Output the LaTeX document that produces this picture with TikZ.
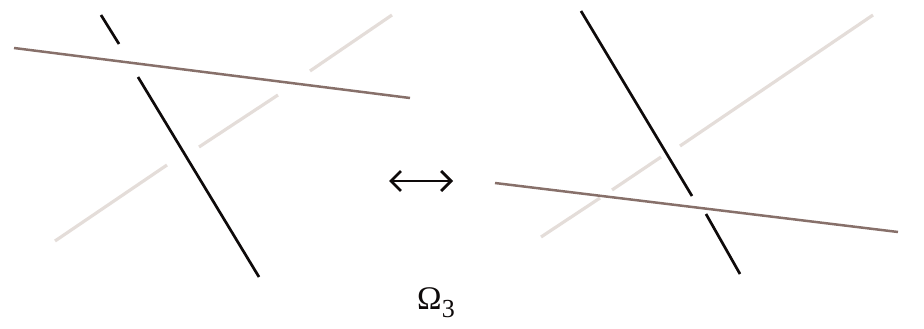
\documentclass[tikz,border=0pt]{standalone}
\usepackage{fontspec}
\setmainfont{Liberation Serif}
\usetikzlibrary{arrows.meta}
\definecolor{strandbrown}{RGB}{135,112,106}
\definecolor{strandpale}{RGB}{228,221,217}
\definecolor{strandblack}{RGB}{14,10,10}
\tikzset{
  blackstrand/.style={draw=strandblack,line width=2.7pt},
  brownstrand/.style={draw=strandbrown,line width=2.5pt},
  palestrand/.style={draw=strandpale,line width=3.2pt},
  swap/.style={draw=strandblack,line width=2.8pt,{Straight Barb[length=10pt,width=20pt,line width=2.8pt]}-{Straight Barb[length=10pt,width=20pt,line width=2.8pt]}}
}
\begin{document}
\begin{tikzpicture}[x=1pt,y=-1pt]
\useasboundingbox (0,0) rectangle (924,329);
% left figure
\coordinate (la1) at (55,241); \coordinate (la2) at (167,165);
\coordinate (la3) at (199,147); \coordinate (la4) at (278,95);
\coordinate (la5) at (310,71); \coordinate (la6) at (392,15);
\draw[palestrand] (la1) -- (la2);
\draw[palestrand] (la3) -- (la4);
\draw[palestrand] (la5) -- (la6);
\coordinate (lb1) at (101,15); \coordinate (lb2) at (119,44);
\coordinate (lb3) at (138,77); \coordinate (lb4) at (259,277);
\draw[blackstrand] (lb1) -- (lb2);
\draw[blackstrand] (lb3) -- (lb4);
\coordinate (lc1) at (14,48); \coordinate (lc2) at (410,98);
\draw[brownstrand] (lc1) -- (lc2);
% right figure
\coordinate (ra1) at (541,237); \coordinate (ra2) at (600,198);
\coordinate (ra3) at (612,190); \coordinate (ra4) at (661,157);
\coordinate (ra5) at (680,146); \coordinate (ra6) at (873,15);
\draw[palestrand] (ra1) -- (ra2);
\draw[palestrand] (ra3) -- (ra4);
\draw[palestrand] (ra5) -- (ra6);
\coordinate (rb1) at (581,11); \coordinate (rb2) at (692,196);
\coordinate (rb3) at (706,214); \coordinate (rb4) at (740,274);
\draw[blackstrand] (rb1) -- (rb2);
\draw[blackstrand] (rb3) -- (rb4);
\coordinate (rc1) at (495,183); \coordinate (rc2) at (898,232);
\draw[brownstrand] (rc1) -- (rc2);
% move
\coordinate (m1) at (389,181); \coordinate (m2) at (453,181);
\draw[swap] (m1) -- (m2);
\node[inner sep=0pt,text=strandblack,font=\fontsize{33}{35}\selectfont] (omega) at (436,303) {Ω\raisebox{-8pt}{\fontsize{26}{28}\selectfont 3}};
\end{tikzpicture}
\end{document}
